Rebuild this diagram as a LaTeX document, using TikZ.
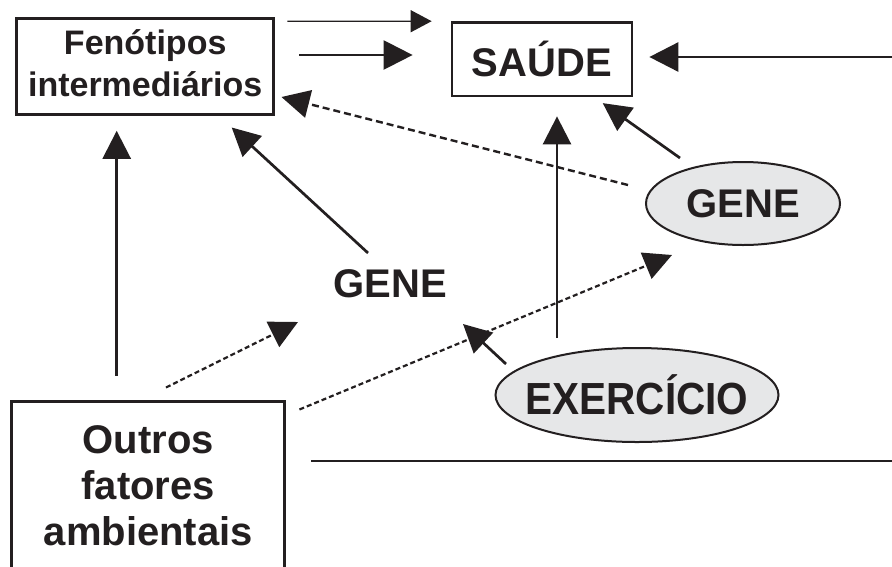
\documentclass[tikz,border=0pt]{standalone}
\usepackage{fontspec}
\setmainfont{Liberation Sans}
\usetikzlibrary{arrows.meta, calc, shapes.geometric}
\definecolor{tinta}{HTML}{231F20}
\definecolor{cinza}{HTML}{E6E7E8}
\tikzset{>={Triangle[length=28pt,width=28pt]}}
\tikzset{
  caixa/.style={draw=tinta, line width=3pt, inner sep=0pt, align=center, text=tinta},
  oval/.style={ellipse, draw=tinta, fill=cinza, line width=2pt, inner sep=0pt, text=tinta},
  seta/.style={->, draw=tinta, line width=2.7pt},
  trac/.style={->, draw=tinta, line width=2.4pt, dash pattern=on 7pt off 4pt},
  tracfino/.style={->, draw=tinta, line width=2.2pt, dash pattern=on 5pt off 3pt},
}

\begin{document}
\begin{tikzpicture}[x=1pt, y=-1pt]
        \path[use as bounding box, clip] (0,0) rectangle (892,566);
        \node[caixa, minimum width=257.5pt, minimum height=96pt, font=\bfseries\fontsize{34}{42}\selectfont] (fen) at (145.2,66.7) {Fenótipos\\intermediários\vphantom{p}};
        \node[caixa, line width=2.7pt, minimum width=180pt, minimum height=73.3pt, font=\bfseries\fontsize{40}{46}\selectfont] (saude) at (542,59.2) {SAÚDE};
        \node[oval, minimum width=194pt, minimum height=83pt, font=\bfseries\fontsize{40}{46}\selectfont] (gene1) at (743,203.5) {GENE};
        \node[text=tinta, inner sep=0pt, font=\bfseries\fontsize{40}{46}\selectfont] (gene2) at (390,283.5) {GENE};
        \node[oval, inner xsep=-15pt, minimum width=283pt, minimum height=94pt, font=\bfseries\fontsize{45}{50}\selectfont] (exer) at (637,395) {\scalebox{0.9}[1]{EXERCÍCIO}};
        \node[caixa, minimum width=273.3pt, minimum height=169pt, font=\bfseries\fontsize{40}{46}\selectfont] (outros) at (148.3,486.2) {Outros\\fatores\\ambientais};
        \coordinate (bordaS) at (892,57);
        \coordinate (bordaL) at (892,461);

        \draw[seta, line width=1.3pt, -{Triangle[length=21pt,width=22pt]}] ($(fen.north east)+(12,4)$) -- ($(saude.north west)+(-19,0)$);
        \draw[seta, line width=2.3pt, -{Triangle[length=29pt,width=29pt]}] ($(fen.east)+(24,-11.7)$) -- ($(saude.west)+(-38,-4.2)$);
        \draw[seta, -{Triangle[length=29pt,width=29pt]}] (bordaS) -- ($(saude.east)+(16,-2.2)$);
        \draw[trac] ($(gene1.center)+(-115,-18.5)$) -- ($(fen.east)+(6,30.3)$);
        \draw[seta] ($(gene2.center)+(-22,-30.5)$) -- ($(fen.south)+(86.5,11.3)$);
        \draw[seta] ($(gene1.center)+(-63,-45.5)$) -- ($(saude.south)+(60.7,5.9)$);
        \draw[seta] ($(exer.center)+(-80,-57)$) -- ($(saude.south)+(15,19.2)$);
        \draw[seta] ($(exer.center)+(-131,-31)$) -- ($(gene2.center)+(73,40.5)$);
        \draw[seta] ($(outros.north)+(-31.6,-24.7)$) -- ($(fen.south)+(-28.5,14.6)$);
        \draw[tracfino] ($(outros.north)+(17.7,-12.7)$) -- ($(gene2.center)+(-92,38.5)$);
        \draw[tracfino] ($(outros.north east)+(13,9.3)$) -- ($(gene1.center)+(-71,51.5)$);
        \draw[tinta, line width=2.5pt] ($(outros.east)+(25,-25.2)$) -- (bordaL);
\end{tikzpicture}
\end{document}
